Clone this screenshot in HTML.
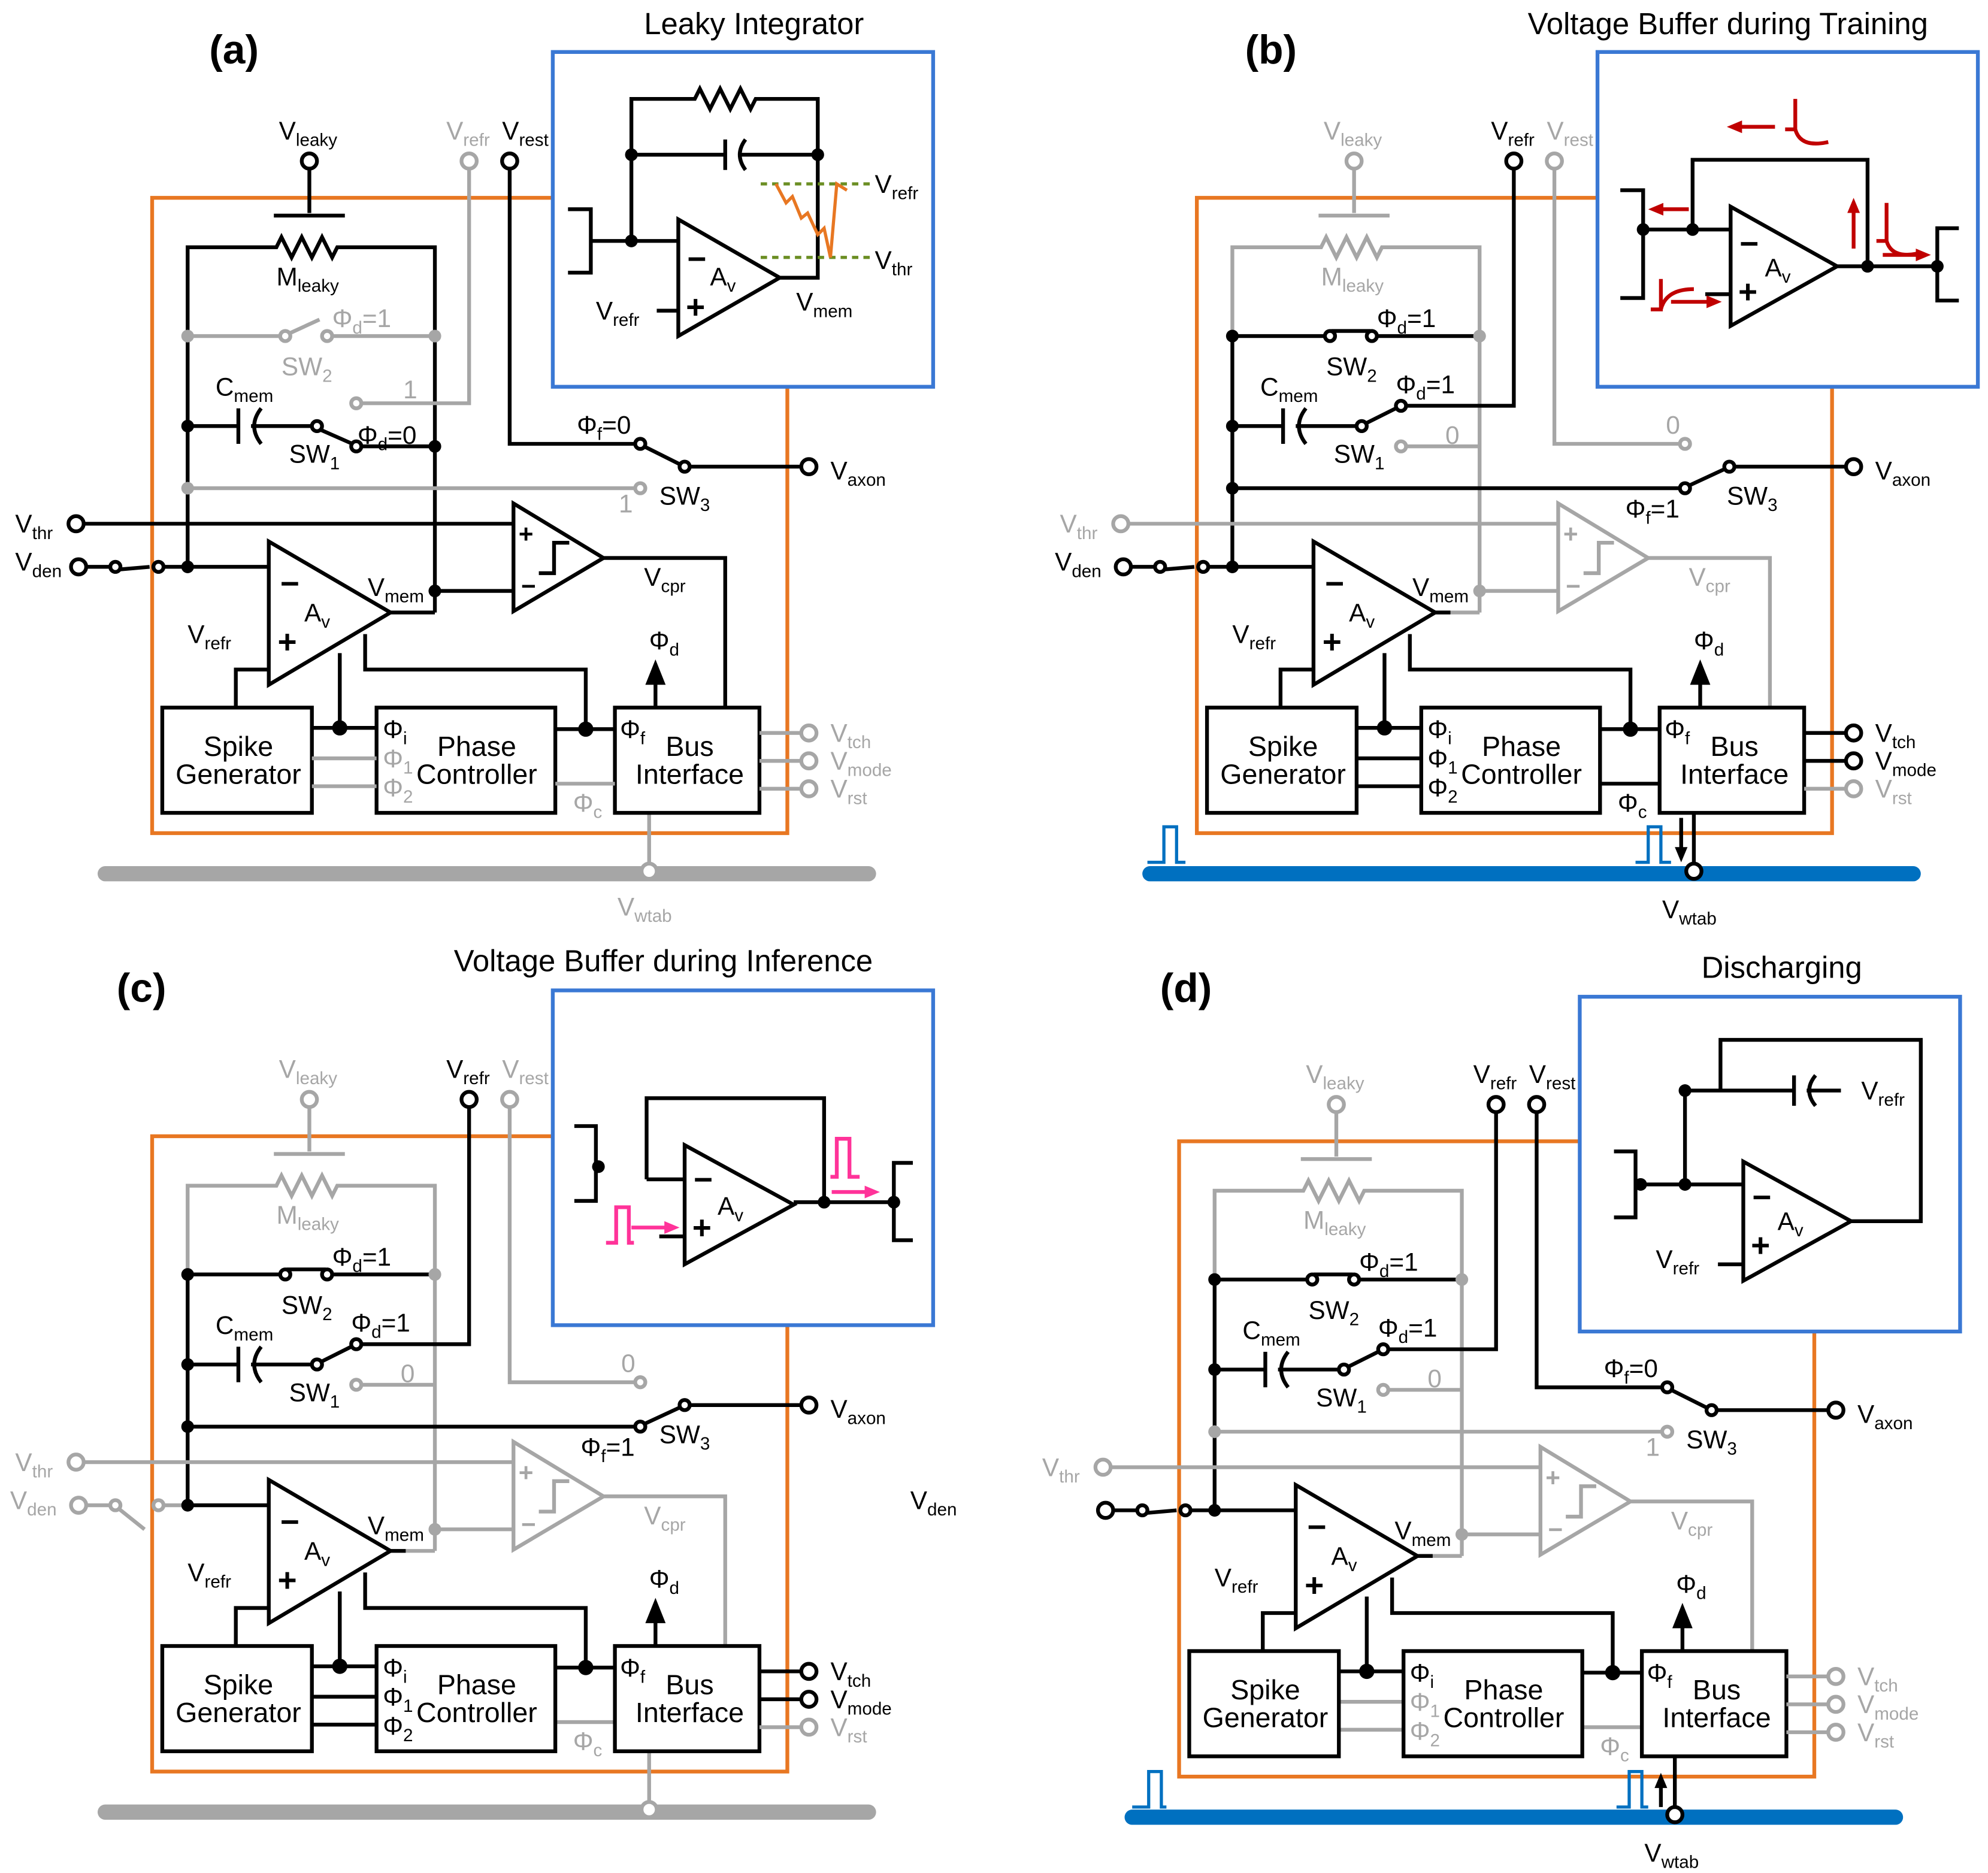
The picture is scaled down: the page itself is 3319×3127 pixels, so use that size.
<!DOCTYPE html>
<html><head><meta charset="utf-8"><style>
html,body{margin:0;padding:0;background:#fff}
svg{display:block}
text{font-family:"Liberation Sans",Arial,sans-serif;font-size:20px;fill:#000}
.tg{fill:#a6a6a6}
.s{font-size:14px}
.k{stroke:#000;stroke-width:3;fill:none}
.g{stroke:#a6a6a6;stroke-width:3;fill:none}
.ok{stroke:#000;stroke-width:3;fill:#fff}
.og{stroke:#a6a6a6;stroke-width:3;fill:#fff}
.dk{fill:#000}
.dg{fill:#a6a6a6}
.or{stroke:#E87722;stroke-width:3;fill:none}
.bl{stroke:#3a78d4;stroke-width:3;fill:#fff}
.busg{stroke:#a6a6a6;stroke-width:12;stroke-linecap:round}
.busb{stroke:#0070C0;stroke-width:12;stroke-linecap:round}
.pb{stroke:#0070C0;stroke-width:2.5;fill:none}
.box{stroke:#000;stroke-width:3;fill:#fff}
.bt{font-size:22px;text-anchor:middle}
.pl{font-size:32px;font-weight:bold}
.tt{font-size:24px}
.red{stroke:#c00000;stroke-width:3;fill:none}
.pk{stroke:#ff3399;stroke-width:3;fill:none}
.mn{font-size:26px;font-weight:bold}
.pp{font-size:26px;font-weight:bold}
</style></head><body>
<svg width="3319" height="3127" viewBox="0 0 1568 1477" preserveAspectRatio="none" xmlns="http://www.w3.org/2000/svg">
<defs>
<marker id="ar" markerUnits="userSpaceOnUse" markerWidth="12" markerHeight="12" refX="6" refY="6" orient="auto"><path d="M0,1L12,6L0,11z" fill="#c00000"/></marker>
<marker id="ap" markerUnits="userSpaceOnUse" markerWidth="12" markerHeight="12" refX="6" refY="6" orient="auto"><path d="M0,1L12,6L0,11z" fill="#ff3399"/></marker>
</defs>

<!-- ================= PANEL A ================= -->
<text class="pl" x="165" y="50">(a)</text>
<g>
<rect class="or" x="120" y="156" width="501" height="501"/>
<line class="busg" x1="83" y1="689" x2="685" y2="689"/>
<line class="g" x1="512" y1="641" x2="512" y2="681"/><circle class="og" cx="512" cy="687" r="6"/>
<text class="tg" x="487" y="722">V<tspan class="s" dy="5">wtab</tspan></text>
<circle class="ok" cx="244" cy="127" r="6"/>
<text x="220" y="110">V<tspan class="s" dy="5">leaky</tspan></text>
<path class="k" d="M244,133V168M216,170H272M148,265V195H218l4,-8l8,16l8,-16l8,16l8,-16l8,16l4,-8H343V265"/>
<text x="218" y="225">M<tspan class="s" dy="5">leaky</tspan></text>
<path class="k" d="M343,265V483M148,265V447"/>
<path class="g" d="M148,265H221M262,265H343M228,263L252,252"/>
<circle class="og" cx="225" cy="265" r="4"/><circle class="og" cx="258" cy="265" r="4"/>
<circle class="dg" cx="148" cy="265" r="5"/><circle class="dg" cx="343" cy="265" r="5"/>
<text class="tg" x="262" y="258">Φ<tspan class="s" dy="5">d</tspan><tspan dy="-5">=1</tspan></text>
<text class="tg" x="222" y="296">SW<tspan class="s" dy="5">2</tspan></text>
<circle class="dk" cx="148" cy="336" r="5"/>
<path class="k" d="M148,336H188M188,322V350M206,322Q195,336 206,350M198,336H246M253,339L278,350M285,352H343"/>
<circle class="ok" cx="250" cy="336" r="4"/><circle class="ok" cx="281" cy="352" r="4"/><circle class="dk" cx="343" cy="352" r="5"/>
<text x="170" y="312">C<tspan class="s" dy="5">mem</tspan></text>
<text x="228" y="365">SW<tspan class="s" dy="5">1</tspan></text>
<text x="282" y="350">Φ<tspan class="s" dy="5">d</tspan><tspan dy="-5">=0</tspan></text>
<circle class="og" cx="281" cy="318" r="4"/><path class="g" d="M285,318H370V133"/><circle class="og" cx="370" cy="127" r="6"/>
<text class="tg" x="318" y="314">1</text>
<text class="tg" x="352" y="110">V<tspan class="s" dy="5">refr</tspan></text>
<circle class="dg" cx="148" cy="385" r="5"/><path class="g" d="M148,385H501"/><circle class="og" cx="505" cy="385" r="4"/><text class="tg" x="488" y="404">1</text>
<circle class="ok" cx="402" cy="127" r="6"/><text x="396" y="110">V<tspan class="s" dy="5">rest</tspan></text>
<path class="k" d="M402,133V350H501M508,352L536,366M544,368H632"/>
<circle class="ok" cx="505" cy="350" r="4"/><circle class="ok" cx="540" cy="368" r="4"/><circle class="ok" cx="638" cy="368" r="6"/>
<text x="455" y="342">Φ<tspan class="s" dy="5">f</tspan><tspan dy="-5">=0</tspan></text>
<text x="520" y="398">SW<tspan class="s" dy="5">3</tspan></text><text x="655" y="378">V<tspan class="s" dy="5">axon</tspan></text>
<circle class="ok" cx="60" cy="413" r="6"/><path class="k" d="M66,413H405"/><text x="12" y="420">V<tspan class="s" dy="5">thr</tspan></text>
<circle class="ok" cx="62" cy="447" r="6"/><path class="k" d="M68,447H87M95,449L118,447M129,447H212"/><circle class="ok" cx="91" cy="447" r="4"/><circle class="ok" cx="125" cy="447" r="4"/>
<text x="12" y="450">V<tspan class="s" dy="5">den</tspan></text>
<circle class="dk" cx="148" cy="447" r="5"/>
<polygon class="k" points="212,427 212,540 308,483"/>
<text class="mn" x="221" y="469">−</text><text class="pp" x="219" y="515">+</text>
<text x="240" y="490">A<tspan class="s" dy="5">v</tspan></text>
<path class="k" d="M308,483H343"/>
<text x="290" y="470">V<tspan class="s" dy="5">mem</tspan></text>
<circle class="dk" cx="343" cy="466" r="5"/><path class="k" d="M343,466H405"/>
<polygon class="k" points="405,397 405,482 476,440"/>
<text x="409" y="428" font-size="22" font-weight="bold">+</text><text x="411" y="469" font-size="24" font-weight="bold">−</text>
<path class="k" d="M425,452H437V428H449"/>
<path class="k" d="M476,440H572V558"/>
<text x="508" y="462">V<tspan class="s" dy="5">cpr</tspan></text>
<text x="148" y="507">V<tspan class="s" dy="5">refr</tspan></text>
<path class="k" d="M186,558V528H212M288,500V528H462V575M268,515V574M246,574H297M438,575H485"/>
<circle class="dk" cx="268" cy="574" r="6"/><circle class="dk" cx="462" cy="575" r="6"/>
<rect class="box" x="128" y="558" width="118" height="83"/>
<rect class="box" x="297" y="558" width="141" height="83"/>
<rect class="box" x="485" y="558" width="114" height="83"/>
<path class="g" d="M246,598H297M246,620H297M438,618H485"/>
<text class="bt" x="188" y="596">Spike</text><text class="bt" x="188" y="618">Generator</text>
<text class="bt" x="376" y="596">Phase</text><text class="bt" x="376" y="618">Controller</text>
<text class="bt" x="544" y="596">Bus</text><text class="bt" x="544" y="618">Interface</text>
<text x="302" y="582">Φ<tspan class="s" dy="5">i</tspan></text>
<text class="tg" x="302" y="605">Φ<tspan class="s" dy="5">1</tspan></text>
<text class="tg" x="302" y="628">Φ<tspan class="s" dy="5">2</tspan></text>
<text class="tg" x="452" y="640">Φ<tspan class="s" dy="5">c</tspan></text>
<text x="489" y="582">Φ<tspan class="s" dy="5">f</tspan></text>
<path class="k" d="M517,558V536"/><polygon points="509,540 517,520 525,540" fill="#000"/>
<text x="512" y="512">Φ<tspan class="s" dy="5">d</tspan></text>
<path class="g" d="M599,578H632M599,600H632M599,622H632"/>
<circle class="og" cx="638" cy="578" r="6"/><circle class="og" cx="638" cy="600" r="6"/><circle class="og" cx="638" cy="622" r="6"/>
<text class="tg" x="655" y="585">V<tspan class="s" dy="5">tch</tspan></text>
<text class="tg" x="655" y="607">V<tspan class="s" dy="5">mode</tspan></text>
<text class="tg" x="655" y="629">V<tspan class="s" dy="5">rst</tspan></text>
</g>
<!-- inset A -->
<rect class="bl" x="436" y="41" width="300" height="264"/>
<text class="tt" x="508" y="27">Leaky Integrator</text>
<path class="k" d="M448,165H466V215H448M466,190H535M498,190V78H548l4,-8l8,16l8,-16l8,16l8,-16l8,16l4,-8H645V219H615M498,122H572M572,110V134M588,110Q579,122 588,134M582,122H645M518,245H535"/>
<circle class="dk" cx="498" cy="190" r="5"/><circle class="dk" cx="498" cy="122" r="5"/><circle class="dk" cx="645" cy="122" r="5"/>
<polygon class="k" points="535,173 535,265 615,219"/>
<text class="mn" x="542" y="213">−</text><text class="pp" x="541" y="251">+</text>
<text x="560" y="225">A<tspan class="s" dy="5">v</tspan></text>
<text x="470" y="252">V<tspan class="s" dy="5">refr</tspan></text>
<path d="M600,145H690M600,203H690" stroke="#6b8e23" stroke-width="2.5" stroke-dasharray="5,4" fill="none"/>
<path d="M612,145L620,160L625,155L632,172L637,168L645,185L650,180L655,203L660,145L668,150" stroke="#E87722" stroke-width="2.5" fill="none"/>
<text x="690" y="152">V<tspan class="s" dy="5">refr</tspan></text>
<text x="690" y="212">V<tspan class="s" dy="5">thr</tspan></text>
<text x="628" y="245">V<tspan class="s" dy="5">mem</tspan></text>

<!-- ================= PANEL B ================= -->
<text class="pl" x="982" y="50">(b)</text>
<g transform="translate(824,0)">
<rect class="or" x="120" y="156" width="501" height="501"/>
<line class="busb" x1="83" y1="689" x2="685" y2="689"/>
<path class="pb" d="M81,680H94V652H104V680H111M466,680H476V652H486V680H494"/>
<path class="k" d="M502,645V672"/><polygon points="497,668 502,680 507,668" fill="#000"/>
<line class="k" x1="512" y1="641" x2="512" y2="681"/><circle class="ok" cx="512" cy="687" r="6"/>
<text x="487" y="724">V<tspan class="s" dy="5">wtab</tspan></text>
<circle class="og" cx="244" cy="127" r="6"/>
<text class="tg" x="220" y="110">V<tspan class="s" dy="5">leaky</tspan></text>
<path class="g" d="M244,133V168M216,170H272M148,265V195H218l4,-8l8,16l8,-16l8,16l8,-16l8,16l4,-8H343V265M343,265V483M308,483H343"/>
<text class="tg" x="218" y="225">M<tspan class="s" dy="5">leaky</tspan></text>
<path class="k" d="M148,265V447"/>
<path class="k" d="M148,265H221M262,265H343M226,261H257"/>
<circle class="ok" cx="225" cy="265" r="4"/><circle class="ok" cx="258" cy="265" r="4"/>
<circle class="dk" cx="148" cy="265" r="5"/><circle class="dg" cx="343" cy="265" r="5"/>
<text x="262" y="258">Φ<tspan class="s" dy="5">d</tspan><tspan dy="-5">=1</tspan></text>
<text x="222" y="296">SW<tspan class="s" dy="5">2</tspan></text>
<circle class="dk" cx="148" cy="336" r="5"/>
<path class="k" d="M148,336H188M188,322V350M206,322Q195,336 206,350M198,336H246M253,334L277,322M285,320H370V133"/>
<circle class="ok" cx="250" cy="336" r="4"/><circle class="ok" cx="281" cy="320" r="4"/><circle class="ok" cx="370" cy="127" r="6"/>
<circle class="og" cx="281" cy="352" r="4"/><path class="g" d="M285,352H343"/>
<text class="tg" x="316" y="350">0</text>
<text x="170" y="312">C<tspan class="s" dy="5">mem</tspan></text>
<text x="228" y="365">SW<tspan class="s" dy="5">1</tspan></text>
<text x="277" y="310">Φ<tspan class="s" dy="5">d</tspan><tspan dy="-5">=1</tspan></text>
<text x="352" y="110">V<tspan class="s" dy="5">refr</tspan></text>
<circle class="dk" cx="148" cy="385" r="5"/><path class="k" d="M148,385H501M508,383L536,370"/><circle class="ok" cx="505" cy="385" r="4"/>
<text x="458" y="408">Φ<tspan class="s" dy="5">f</tspan><tspan dy="-5">=1</tspan></text>
<circle class="og" cx="402" cy="127" r="6"/><text class="tg" x="396" y="110">V<tspan class="s" dy="5">rest</tspan></text>
<path class="g" d="M402,133V350H501"/><circle class="og" cx="505" cy="350" r="4"/><text class="tg" x="490" y="342">0</text>
<path class="k" d="M544,368H632"/>
<circle class="ok" cx="540" cy="368" r="4"/><circle class="ok" cx="638" cy="368" r="6"/>
<text x="538" y="398">SW<tspan class="s" dy="5">3</tspan></text><text x="655" y="378">V<tspan class="s" dy="5">axon</tspan></text>
<circle class="og" cx="60" cy="413" r="6"/><path class="g" d="M66,413H405"/><text class="tg" x="12" y="420">V<tspan class="s" dy="5">thr</tspan></text>
<circle class="ok" cx="62" cy="447" r="6"/><path class="k" d="M68,447H87M95,449L118,447M129,447H212"/><circle class="ok" cx="91" cy="447" r="4"/><circle class="ok" cx="125" cy="447" r="4"/>
<text x="8" y="450">V<tspan class="s" dy="5">den</tspan></text>
<circle class="dk" cx="148" cy="447" r="5"/>
<polygon class="k" points="212,427 212,540 308,483"/>
<text class="mn" x="221" y="469">−</text><text class="pp" x="219" y="515">+</text>
<text x="240" y="490">A<tspan class="s" dy="5">v</tspan></text>
<path class="k" d="M308,483H320"/>
<text x="290" y="470">V<tspan class="s" dy="5">mem</tspan></text>
<circle class="dg" cx="343" cy="466" r="5"/><path class="g" d="M343,466H405"/>
<polygon class="g" points="405,397 405,482 476,440"/>
<text class="tg" x="409" y="428" font-size="22" font-weight="bold">+</text><text class="tg" x="411" y="469" font-size="24" font-weight="bold">−</text>
<path class="g" d="M425,452H437V428H449M476,440H572V558"/>
<text class="tg" x="508" y="462">V<tspan class="s" dy="5">cpr</tspan></text>
<text x="148" y="507">V<tspan class="s" dy="5">refr</tspan></text>
<path class="k" d="M186,558V528H212M288,500V528H462V575M268,515V574M246,574H297M438,575H485M246,598H297M246,620H297M438,618H485"/>
<circle class="dk" cx="268" cy="574" r="6"/><circle class="dk" cx="462" cy="575" r="6"/>
<rect class="box" x="128" y="558" width="118" height="83"/>
<rect class="box" x="297" y="558" width="141" height="83"/>
<rect class="box" x="485" y="558" width="114" height="83"/>
<text class="bt" x="188" y="596">Spike</text><text class="bt" x="188" y="618">Generator</text>
<text class="bt" x="376" y="596">Phase</text><text class="bt" x="376" y="618">Controller</text>
<text class="bt" x="544" y="596">Bus</text><text class="bt" x="544" y="618">Interface</text>
<text x="302" y="582">Φ<tspan class="s" dy="5">i</tspan></text>
<text x="302" y="605">Φ<tspan class="s" dy="5">1</tspan></text>
<text x="302" y="628">Φ<tspan class="s" dy="5">2</tspan></text>
<text x="452" y="640">Φ<tspan class="s" dy="5">c</tspan></text>
<text x="489" y="582">Φ<tspan class="s" dy="5">f</tspan></text>
<path class="k" d="M517,558V536"/><polygon points="509,540 517,520 525,540" fill="#000"/>
<text x="512" y="512">Φ<tspan class="s" dy="5">d</tspan></text>
<path class="k" d="M599,578H632M599,600H632"/><path class="g" d="M599,622H632"/>
<circle class="ok" cx="638" cy="578" r="6"/><circle class="ok" cx="638" cy="600" r="6"/><circle class="og" cx="638" cy="622" r="6"/>
<text x="655" y="585">V<tspan class="s" dy="5">tch</tspan></text>
<text x="655" y="607">V<tspan class="s" dy="5">mode</tspan></text>
<text class="tg" x="655" y="629">V<tspan class="s" dy="5">rst</tspan></text>
</g>
<!-- inset B -->
<rect class="bl" x="1260" y="41" width="300" height="264"/>
<text class="tt" x="1205" y="27">Voltage Buffer during Training</text>
<path class="k" d="M1278,150H1296V235H1278M1296,181H1365M1335,181V126H1473V210M1449,210H1528M1545,180H1528V237H1545M1345,232H1365"/>
<polygon class="k" points="1365,163 1365,257 1449,210"/>
<circle class="dk" cx="1296" cy="181" r="5"/><circle class="dk" cx="1335" cy="181" r="5"/><circle class="dk" cx="1473" cy="210" r="5"/><circle class="dk" cx="1528" cy="210" r="5"/>
<text class="mn" x="1372" y="201">−</text><text class="pp" x="1371" y="239">+</text>
<text x="1392" y="218">A<tspan class="s" dy="5">v</tspan></text>
<path class="red" d="M1400,100H1368" marker-end="url(#ar)"/>
<path class="red" d="M1408,102H1416V78M1416,102Q1420,117 1442,112"/>
<path class="red" d="M1332,165H1306" marker-end="url(#ar)"/>
<path class="red" d="M1462,196V162" marker-end="url(#ar)"/>
<path class="red" d="M1480,190H1488V160M1488,190Q1492,204 1512,200"/>
<path class="red" d="M1485,201H1517" marker-end="url(#ar)"/>
<path class="red" d="M1302,244H1310V220M1310,244Q1314,228 1336,228"/>
<path class="red" d="M1318,238H1352" marker-end="url(#ar)"/>

<!-- ================= PANEL C ================= -->
<text class="pl" x="92" y="790">(c)</text>
<g transform="translate(0,740)">
<rect class="or" x="120" y="156" width="501" height="501"/>
<line class="busg" x1="83" y1="689" x2="685" y2="689"/>
<line class="g" x1="512" y1="641" x2="512" y2="681"/><circle class="og" cx="512" cy="687" r="6"/>
<circle class="og" cx="244" cy="127" r="6"/>
<text class="tg" x="220" y="110">V<tspan class="s" dy="5">leaky</tspan></text>
<path class="g" d="M244,133V168M216,170H272M148,265V195H218l4,-8l8,16l8,-16l8,16l8,-16l8,16l4,-8H343V265M343,265V483M308,483H343"/>
<text class="tg" x="218" y="225">M<tspan class="s" dy="5">leaky</tspan></text>
<path class="k" d="M148,265V447"/>
<path class="k" d="M148,265H221M262,265H343M226,261H257"/>
<circle class="ok" cx="225" cy="265" r="4"/><circle class="ok" cx="258" cy="265" r="4"/>
<circle class="dk" cx="148" cy="265" r="5"/><circle class="dg" cx="343" cy="265" r="5"/>
<text x="262" y="258">Φ<tspan class="s" dy="5">d</tspan><tspan dy="-5">=1</tspan></text>
<text x="222" y="296">SW<tspan class="s" dy="5">2</tspan></text>
<circle class="dk" cx="148" cy="336" r="5"/>
<path class="k" d="M148,336H188M188,322V350M206,322Q195,336 206,350M198,336H246M253,334L277,322M285,320H370V133"/>
<circle class="ok" cx="250" cy="336" r="4"/><circle class="ok" cx="281" cy="320" r="4"/><circle class="ok" cx="370" cy="127" r="6"/>
<circle class="og" cx="281" cy="352" r="4"/><path class="g" d="M285,352H343"/>
<text class="tg" x="316" y="350">0</text>
<text x="170" y="312">C<tspan class="s" dy="5">mem</tspan></text>
<text x="228" y="365">SW<tspan class="s" dy="5">1</tspan></text>
<text x="277" y="310">Φ<tspan class="s" dy="5">d</tspan><tspan dy="-5">=1</tspan></text>
<text x="352" y="110">V<tspan class="s" dy="5">refr</tspan></text>
<circle class="dk" cx="148" cy="385" r="5"/><path class="k" d="M148,385H501M508,383L536,370"/><circle class="ok" cx="505" cy="385" r="4"/>
<text x="458" y="408">Φ<tspan class="s" dy="5">f</tspan><tspan dy="-5">=1</tspan></text>
<circle class="og" cx="402" cy="127" r="6"/><text class="tg" x="396" y="110">V<tspan class="s" dy="5">rest</tspan></text>
<path class="g" d="M402,133V350H501"/><circle class="og" cx="505" cy="350" r="4"/><text class="tg" x="490" y="342">0</text>
<path class="k" d="M544,368H632"/>
<circle class="ok" cx="540" cy="368" r="4"/><circle class="ok" cx="638" cy="368" r="6"/>
<text x="520" y="398">SW<tspan class="s" dy="5">3</tspan></text><text x="655" y="378">V<tspan class="s" dy="5">axon</tspan></text>
<text x="718" y="450">V<tspan class="s" dy="5">den</tspan></text>
<circle class="og" cx="60" cy="413" r="6"/><path class="g" d="M66,413H405"/><text class="tg" x="12" y="420">V<tspan class="s" dy="5">thr</tspan></text>
<circle class="og" cx="62" cy="447" r="6"/><path class="g" d="M68,447H87M94,450L114,466M129,447H148"/><circle class="og" cx="91" cy="447" r="4"/><circle class="og" cx="125" cy="447" r="4"/>
<path class="k" d="M148,447H212"/>
<text class="tg" x="8" y="450">V<tspan class="s" dy="5">den</tspan></text>
<circle class="dk" cx="148" cy="447" r="5"/>
<polygon class="k" points="212,427 212,540 308,483"/>
<text class="mn" x="221" y="469">−</text><text class="pp" x="219" y="515">+</text>
<text x="240" y="490">A<tspan class="s" dy="5">v</tspan></text>
<path class="k" d="M308,483H320"/>
<text x="290" y="470">V<tspan class="s" dy="5">mem</tspan></text>
<circle class="dg" cx="343" cy="466" r="5"/><path class="g" d="M343,466H405"/>
<polygon class="g" points="405,397 405,482 476,440"/>
<text class="tg" x="409" y="428" font-size="22" font-weight="bold">+</text><text class="tg" x="411" y="469" font-size="24" font-weight="bold">−</text>
<path class="g" d="M425,452H437V428H449M476,440H572V558"/>
<text class="tg" x="508" y="462">V<tspan class="s" dy="5">cpr</tspan></text>
<text x="148" y="507">V<tspan class="s" dy="5">refr</tspan></text>
<path class="k" d="M186,558V528H212M288,500V528H462V575M268,515V574M246,574H297M438,575H485M246,598H297M246,620H297"/>
<path class="g" d="M438,618H485"/>
<circle class="dk" cx="268" cy="574" r="6"/><circle class="dk" cx="462" cy="575" r="6"/>
<rect class="box" x="128" y="558" width="118" height="83"/>
<rect class="box" x="297" y="558" width="141" height="83"/>
<rect class="box" x="485" y="558" width="114" height="83"/>
<text class="bt" x="188" y="596">Spike</text><text class="bt" x="188" y="618">Generator</text>
<text class="bt" x="376" y="596">Phase</text><text class="bt" x="376" y="618">Controller</text>
<text class="bt" x="544" y="596">Bus</text><text class="bt" x="544" y="618">Interface</text>
<text x="302" y="582">Φ<tspan class="s" dy="5">i</tspan></text>
<text x="302" y="605">Φ<tspan class="s" dy="5">1</tspan></text>
<text x="302" y="628">Φ<tspan class="s" dy="5">2</tspan></text>
<text class="tg" x="452" y="640">Φ<tspan class="s" dy="5">c</tspan></text>
<text x="489" y="582">Φ<tspan class="s" dy="5">f</tspan></text>
<path class="k" d="M517,558V536"/><polygon points="509,540 517,520 525,540" fill="#000"/>
<text x="512" y="512">Φ<tspan class="s" dy="5">d</tspan></text>
<path class="k" d="M599,578H632M599,600H632"/><path class="g" d="M599,622H632"/>
<circle class="ok" cx="638" cy="578" r="6"/><circle class="ok" cx="638" cy="600" r="6"/><circle class="og" cx="638" cy="622" r="6"/>
<text x="655" y="585">V<tspan class="s" dy="5">tch</tspan></text>
<text x="655" y="607">V<tspan class="s" dy="5">mode</tspan></text>
<text class="tg" x="655" y="629">V<tspan class="s" dy="5">rst</tspan></text>
</g>
<!-- inset C -->
<rect class="bl" x="436" y="781" width="300" height="264"/>
<text class="tt" x="358" y="766">Voltage Buffer during Inference</text>
<path class="k" d="M453,888H470V947H453M470,920H476M510,930H540M510,930V866H650V948M626,948H705M720,917H705V978H720M520,975H540"/>
<polygon class="k" points="540,903 540,997 626,950"/>
<circle class="dk" cx="472" cy="920" r="5"/><circle class="dk" cx="650" cy="948" r="5"/><circle class="dk" cx="705" cy="948" r="5"/>
<text class="mn" x="547" y="939">−</text><text class="pp" x="546" y="977">+</text>
<text x="566" y="958">A<tspan class="s" dy="5">v</tspan></text>
<path class="pk" d="M478,980H486V952H496V980H500"/>
<path class="pk" d="M498,968H530" marker-end="url(#ap)"/>
<path class="pk" d="M655,928H660V898H670V928H678"/>
<path class="pk" d="M656,940H688" marker-end="url(#ap)"/>

<!-- ================= PANEL D ================= -->
<text class="pl" x="915" y="790">(d)</text>
<g transform="translate(810,744)">
<rect class="or" x="120" y="156" width="501" height="501"/>
<line class="busb" x1="83" y1="689" x2="685" y2="689"/>
<path class="pb" d="M83,681H96V653H106V681H110M465,681H475V653H485V681H490"/>
<path class="k" d="M500,681V662"/><polygon points="495,666 500,654 505,666" fill="#000"/>
<line class="k" x1="511" y1="641" x2="511" y2="681"/><circle class="ok" cx="511" cy="687" r="6"/>
<text x="487" y="724">V<tspan class="s" dy="5">wtab</tspan></text>
<circle class="og" cx="244" cy="127" r="6"/>
<text class="tg" x="220" y="110">V<tspan class="s" dy="5">leaky</tspan></text>
<path class="g" d="M244,133V168M216,170H272M148,265V195H218l4,-8l8,16l8,-16l8,16l8,-16l8,16l4,-8H343V265M343,265V483M308,483H343"/>
<text class="tg" x="218" y="225">M<tspan class="s" dy="5">leaky</tspan></text>
<path class="k" d="M148,265V447"/>
<path class="k" d="M148,265H221M262,265H343M226,261H257"/>
<circle class="ok" cx="225" cy="265" r="4"/><circle class="ok" cx="258" cy="265" r="4"/>
<circle class="dk" cx="148" cy="265" r="5"/><circle class="dg" cx="343" cy="265" r="5"/>
<text x="262" y="258">Φ<tspan class="s" dy="5">d</tspan><tspan dy="-5">=1</tspan></text>
<text x="222" y="296">SW<tspan class="s" dy="5">2</tspan></text>
<circle class="dk" cx="148" cy="336" r="5"/>
<path class="k" d="M148,336H188M188,322V350M206,322Q195,336 206,350M198,336H246M253,334L277,322M285,320H370V133"/>
<circle class="ok" cx="250" cy="336" r="4"/><circle class="ok" cx="281" cy="320" r="4"/><circle class="ok" cx="370" cy="127" r="6"/>
<circle class="og" cx="281" cy="352" r="4"/><path class="g" d="M285,352H343"/>
<text class="tg" x="316" y="350">0</text>
<text x="170" y="312">C<tspan class="s" dy="5">mem</tspan></text>
<text x="228" y="365">SW<tspan class="s" dy="5">1</tspan></text>
<text x="277" y="310">Φ<tspan class="s" dy="5">d</tspan><tspan dy="-5">=1</tspan></text>
<text x="352" y="110">V<tspan class="s" dy="5">refr</tspan></text>
<circle class="dg" cx="148" cy="385" r="5"/><path class="g" d="M148,385H501"/><circle class="og" cx="505" cy="385" r="4"/><text class="tg" x="488" y="404">1</text>
<circle class="ok" cx="402" cy="127" r="6"/><text x="396" y="110">V<tspan class="s" dy="5">rest</tspan></text>
<path class="k" d="M402,133V350H501M508,352L536,366M544,368H632"/>
<circle class="ok" cx="505" cy="350" r="4"/><circle class="ok" cx="540" cy="368" r="4"/><circle class="ok" cx="638" cy="368" r="6"/>
<text x="455" y="342">Φ<tspan class="s" dy="5">f</tspan><tspan dy="-5">=0</tspan></text>
<text x="520" y="398">SW<tspan class="s" dy="5">3</tspan></text><text x="655" y="378">V<tspan class="s" dy="5">axon</tspan></text>
<circle class="og" cx="60" cy="413" r="6"/><path class="g" d="M66,413H405"/><text class="tg" x="12" y="420">V<tspan class="s" dy="5">thr</tspan></text>
<circle class="ok" cx="62" cy="447" r="6"/><path class="k" d="M68,447H87M95,449L118,447M129,447H212"/><circle class="ok" cx="91" cy="447" r="4"/><circle class="ok" cx="125" cy="447" r="4"/>
<circle class="dk" cx="148" cy="447" r="5"/>
<polygon class="k" points="212,427 212,540 308,483"/>
<text class="mn" x="221" y="469">−</text><text class="pp" x="219" y="515">+</text>
<text x="240" y="490">A<tspan class="s" dy="5">v</tspan></text>
<path class="k" d="M308,483H320"/>
<text x="290" y="470">V<tspan class="s" dy="5">mem</tspan></text>
<circle class="dg" cx="343" cy="466" r="5"/><path class="g" d="M343,466H405"/>
<polygon class="g" points="405,397 405,482 476,440"/>
<text class="tg" x="409" y="428" font-size="22" font-weight="bold">+</text><text class="tg" x="411" y="469" font-size="24" font-weight="bold">−</text>
<path class="g" d="M425,452H437V428H449M476,440H572V558"/>
<text class="tg" x="508" y="462">V<tspan class="s" dy="5">cpr</tspan></text>
<text x="148" y="507">V<tspan class="s" dy="5">refr</tspan></text>
<path class="k" d="M186,558V528H212M288,500V528H462V575M268,515V574M246,574H297M438,575H485"/>
<path class="g" d="M246,598H297M246,620H297M438,618H485"/>
<circle class="dk" cx="268" cy="574" r="6"/><circle class="dk" cx="462" cy="575" r="6"/>
<rect class="box" x="128" y="558" width="118" height="83"/>
<rect class="box" x="297" y="558" width="141" height="83"/>
<rect class="box" x="485" y="558" width="114" height="83"/>
<text class="bt" x="188" y="596">Spike</text><text class="bt" x="188" y="618">Generator</text>
<text class="bt" x="376" y="596">Phase</text><text class="bt" x="376" y="618">Controller</text>
<text class="bt" x="544" y="596">Bus</text><text class="bt" x="544" y="618">Interface</text>
<text x="302" y="582">Φ<tspan class="s" dy="5">i</tspan></text>
<text class="tg" x="302" y="605">Φ<tspan class="s" dy="5">1</tspan></text>
<text class="tg" x="302" y="628">Φ<tspan class="s" dy="5">2</tspan></text>
<text class="tg" x="452" y="640">Φ<tspan class="s" dy="5">c</tspan></text>
<text x="489" y="582">Φ<tspan class="s" dy="5">f</tspan></text>
<path class="k" d="M517,558V536"/><polygon points="509,540 517,520 525,540" fill="#000"/>
<text x="512" y="512">Φ<tspan class="s" dy="5">d</tspan></text>
<path class="g" d="M599,578H632M599,600H632M599,622H632"/>
<circle class="og" cx="638" cy="578" r="6"/><circle class="og" cx="638" cy="600" r="6"/><circle class="og" cx="638" cy="622" r="6"/>
<text class="tg" x="655" y="585">V<tspan class="s" dy="5">tch</tspan></text>
<text class="tg" x="655" y="607">V<tspan class="s" dy="5">mode</tspan></text>
<text class="tg" x="655" y="629">V<tspan class="s" dy="5">rst</tspan></text>
</g>
<!-- inset D -->
<rect class="bl" x="1246" y="786" width="300" height="264"/>
<text class="tt" x="1342" y="771">Discharging</text>
<path class="k" d="M1273,908H1290V960H1273M1290,934H1375M1329,934V860H1415M1415,848V872M1432,848Q1422,860 1432,872M1425,860H1452M1357,860V820H1515V963H1460M1355,997H1375"/>
<polygon class="k" points="1375,916 1375,1010 1460,963"/>
<circle class="dk" cx="1294" cy="934" r="5"/><circle class="dk" cx="1329" cy="934" r="5"/><circle class="dk" cx="1329" cy="860" r="5"/>
<text class="mn" x="1382" y="953">−</text><text class="pp" x="1381" y="991">+</text>
<text x="1402" y="970">A<tspan class="s" dy="5">v</tspan></text>
<text x="1468" y="867">V<tspan class="s" dy="5">refr</tspan></text>
<text x="1306" y="1000">V<tspan class="s" dy="5">refr</tspan></text>
</svg>
</body></html>
